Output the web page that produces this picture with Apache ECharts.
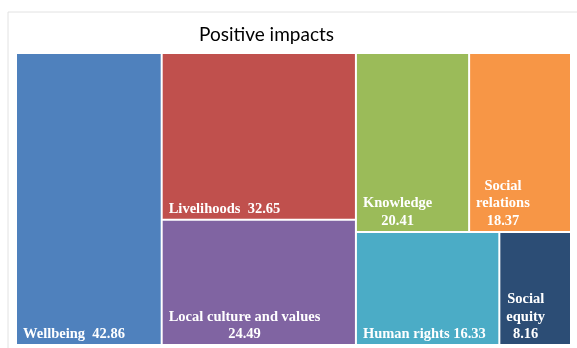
<!DOCTYPE html>
<html>
<head>
<meta charset="utf-8">
<script src="https://cdn.jsdelivr.net/npm/echarts@6/dist/echarts.min.js"></script>
<style>html,body{margin:0;padding:0;background:#fff}#c{width:577px;height:348px}</style>
</head>
<body>
<div id="c"></div>
<script>
var categories = ['Wellbeing', 'Livelihoods', 'Local culture and values', 'Knowledge', 'Social relations', 'Human rights', 'Social equity'];
var values = [42.86, 32.65, 24.49, 20.41, 18.37, 16.33, 8.16];
var labelLines = [
  ['Wellbeing  42.86'],
  ['Livelihoods  32.65'],
  ['Local culture and values', '24.49'],
  ['Knowledge', '20.41'],
  ['Social', 'relations', '18.37'],
  ['Human rights 16.33'],
  ['Social', 'equity', '8.16']
];
var colors = ['#4F81BD', '#C0504D', '#8064A2', '#9BBB59', '#F79646', '#4BACC6', '#2C4D75'];

var LABEL_FONT_SIZE = 14.5;
var LABEL_LINE_H = 17.5;
var LABEL_FONT = 'bold ' + LABEL_FONT_SIZE + 'px "Liberation Serif"';
var measureCtx = document.createElement('canvas').getContext('2d');
measureCtx.font = LABEL_FONT;

var data = categories.map(function (name, i) {
  return { name: name, value: values[i], itemStyle: { color: colors[i] }, lines: labelLines[i] };
});

var chart = echarts.init(document.getElementById('c'), null, { renderer: 'canvas' });
chart.setOption({
  animation: false,
  title: {
    text: 'Positive impacts',
    left: 194,
    top: 20,
    textStyle: { fontFamily: 'Lato', fontSize: 19, fontWeight: 'normal', color: '#000' }
  },
  graphic: [{
    type: 'rect',
    shape: { x: 8, y: 12, width: 620, height: 360 },
    style: { fill: 'none', stroke: '#e2e2e2', lineWidth: 1 },
    silent: true, z: -10
  }],
  series: [{
    type: 'treemap',
    left: 17, top: 54, width: 553, height: 290,
    roam: false,
    nodeClick: false,
    breadcrumb: { show: false },
    squareRatio: 1,
    itemStyle: { borderWidth: 0, gapWidth: 2, borderColor: '#fff' },
    levels: [
      { itemStyle: { borderWidth: 0, gapWidth: 2, borderColor: '#fff' } },
      { itemStyle: { borderWidth: 0, gapWidth: 0 } }
    ],
    label: {
      show: true,
      formatter: function (p) {
        return (p.data && p.data.lines) ? p.data.lines.join('\n') : '';
      },
      color: '#fff',
      fontFamily: 'Liberation Serif',
      fontWeight: 'bold',
      fontSize: LABEL_FONT_SIZE,
      lineHeight: LABEL_LINE_H
    },
    labelLayout: function (params) {
      var lines = String(params.text || '').split('\n');
      var maxW = 0;
      lines.forEach(function (l) { maxW = Math.max(maxW, measureCtx.measureText(l).width); });
      var r = params.rect;
      return {
        x: r.x + 6 + maxW / 2,
        y: r.y + r.height - 6 - lines.length * LABEL_LINE_H,
        align: 'center',
        verticalAlign: 'top'
      };
    },
    upperLabel: { show: false },
    data: data
  }]
});
</script>
</body>
</html>
